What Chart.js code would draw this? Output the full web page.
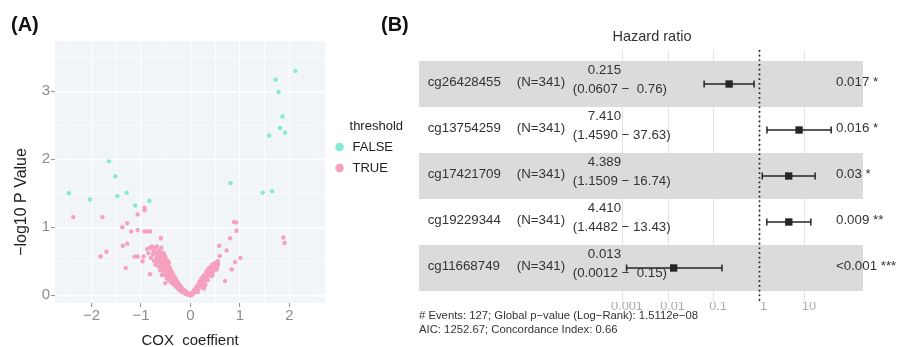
<!DOCTYPE html>
<html>
<head>
<meta charset="utf-8">
<script src="https://cdn.jsdelivr.net/npm/chart.js@4.4.1/dist/chart.umd.min.js"></script>
<style>
  html, body { margin: 0; padding: 0; background: #fff; }
  #wrap { position: relative; width: 897px; height: 347px; overflow: hidden; font-family: "Liberation Sans", Arial, sans-serif; }
  canvas { position: absolute; top: 0; }
  #cvA { left: 0; }
  #cvB { left: 400px; }
  .tag { position: absolute; top: 10px; font-weight: bold; font-size: 20px; line-height: 28px; color: #111; }
</style>
</head>
<body>
<div id="wrap">
  <canvas id="cvA" width="405" height="347"></canvas>
  <canvas id="cvB" width="497" height="347"></canvas>
  <div class="tag" style="left:11px">(A)</div>
  <div class="tag" style="left:381px">(B)</div>
</div>
<script>
// ---------- (A) volcano: COX coefficient vs -log10 p ----------
const thresholdLabels = ['FALSE', 'TRUE'];
const coefTicks = [-2, -1, 0, 1, 2];
const logpTicks = [0, 1, 2, 3];
const coefGrid = [-2.5, -2, -1.5, -1, -0.5, 0, 0.5, 1, 1.5, 2, 2.5];
const logpGrid = [0, 0.5, 1, 1.5, 2, 2.5, 3, 3.5];

// [coef, -log10 p]
const falsePoints = [
  [2.12, 3.30], [1.72, 3.17], [1.78, 2.99], [1.86, 2.63], [1.81, 2.46], [1.59, 2.35],
  [1.91, 2.39], [0.81, 1.65], [1.46, 1.51], [1.65, 1.53], [-1.65, 1.97], [-1.52, 1.75],
  [-2.46, 1.50], [-2.03, 1.41], [-1.48, 1.46], [-1.29, 1.51], [-1.12, 1.32], [-0.83, 1.39]
];
const truePoints = [
  [-2.37, 1.15], [-1.78, 1.15], [-1.82, 0.57], [-1.70, 0.64], [-1.38, 1.00], [-1.28, 1.06],
  [-1.37, 0.73], [-1.28, 0.76], [-1.31, 0.40], [-1.20, 0.94], [-1.07, 0.96], [-1.07, 1.19],
  [-0.93, 1.29], [-0.93, 1.25], [-0.93, 0.94], [-0.88, 0.94], [-0.82, 0.94], [-1.13, 0.57],
  [-1.07, 0.57], [-0.95, 0.57], [-0.97, 0.50], [-0.60, 0.84], [-0.82, 0.31], [-0.51, 0.18],
  [0.88, 1.08], [0.92, 1.07], [0.93, 0.95], [0.80, 0.84], [0.58, 0.73], [0.73, 0.66],
  [0.59, 0.58], [1.01, 0.55], [0.90, 0.49], [0.83, 0.38], [0.70, 0.21], [1.88, 0.85], [1.90, 0.77],
  // left arm
  [-0.88, 0.68], [-0.85, 0.62], [-0.82, 0.70], [-0.80, 0.55], [-0.78, 0.72], [-0.76, 0.60],
  [-0.75, 0.66], [-0.74, 0.51], [-0.72, 0.70], [-0.71, 0.45], [-0.70, 0.62], [-0.69, 0.55],
  [-0.68, 0.72], [-0.67, 0.49], [-0.66, 0.58], [-0.65, 0.66], [-0.64, 0.42], [-0.63, 0.55],
  [-0.62, 0.64], [-0.62, 0.50], [-0.61, 0.37], [-0.60, 0.60], [-0.60, 0.45], [-0.59, 0.70],
  [-0.58, 0.52], [-0.58, 0.30], [-0.57, 0.40], [-0.57, 0.62], [-0.56, 0.58], [-0.56, 0.47],
  [-0.55, 0.48], [-0.55, 0.36], [-0.54, 0.62], [-0.54, 0.53], [-0.53, 0.55], [-0.53, 0.44],
  [-0.52, 0.44], [-0.52, 0.30], [-0.51, 0.50], [-0.51, 0.57], [-0.50, 0.40], [-0.50, 0.33],
  [-0.49, 0.35], [-0.49, 0.47], [-0.48, 0.52], [-0.48, 0.25], [-0.47, 0.45], [-0.47, 0.32],
  [-0.46, 0.28], [-0.46, 0.40], [-0.45, 0.38], [-0.45, 0.50], [-0.44, 0.48], [-0.44, 0.22],
  [-0.43, 0.32], [-0.43, 0.42], [-0.42, 0.25], [-0.42, 0.36], [-0.41, 0.27], [-0.41, 0.40],
  [-0.40, 0.30], [-0.40, 0.20], [-0.39, 0.22], [-0.39, 0.34], [-0.38, 0.35], [-0.38, 0.28],
  [-0.37, 0.28], [-0.37, 0.18], [-0.36, 0.20], [-0.36, 0.31], [-0.35, 0.30], [-0.35, 0.24],
  [-0.34, 0.24], [-0.34, 0.16], [-0.33, 0.18], [-0.33, 0.27], [-0.32, 0.26], [-0.32, 0.21],
  [-0.31, 0.21], [-0.31, 0.14], [-0.30, 0.15], [-0.30, 0.24], [-0.29, 0.22], [-0.29, 0.18],
  [-0.28, 0.17], [-0.28, 0.12], [-0.27, 0.12], [-0.27, 0.20], [-0.26, 0.19], [-0.26, 0.15],
  [-0.25, 0.14], [-0.25, 0.10], [-0.24, 0.10], [-0.24, 0.17], [-0.23, 0.16], [-0.23, 0.12],
  [-0.22, 0.11], [-0.22, 0.08], [-0.21, 0.08], [-0.21, 0.14], [-0.20, 0.13], [-0.20, 0.09],
  [-0.19, 0.09], [-0.19, 0.06], [-0.18, 0.06], [-0.18, 0.11], [-0.17, 0.10], [-0.17, 0.07],
  [-0.16, 0.07], [-0.16, 0.05], [-0.15, 0.05], [-0.15, 0.08], [-0.14, 0.08], [-0.14, 0.05],
  [-0.13, 0.05], [-0.13, 0.07], [-0.12, 0.04], [-0.11, 0.06], [-0.11, 0.03], [-0.10, 0.03],
  [-0.10, 0.05], [-0.09, 0.05], [-0.09, 0.02], [-0.08, 0.03], [-0.07, 0.02], [-0.07, 0.04],
  [-0.06, 0.04], [-0.05, 0.02], [-0.05, 0.03], [-0.04, 0.01], [-0.03, 0.02], [-0.03, 0.01],
  [-0.02, 0.01], [-0.01, 0.00],
  // right arm
  [0.00, 0.00], [0.01, 0.01], [0.02, 0.02], [0.02, 0.00], [0.03, 0.03], [0.04, 0.02],
  [0.04, 0.04], [0.05, 0.04], [0.06, 0.03], [0.06, 0.06], [0.07, 0.06], [0.08, 0.05],
  [0.08, 0.08], [0.09, 0.08], [0.10, 0.06], [0.10, 0.10], [0.11, 0.09], [0.12, 0.07],
  [0.12, 0.12], [0.13, 0.11], [0.14, 0.09], [0.14, 0.14], [0.15, 0.13], [0.15, 0.05],
  [0.16, 0.10], [0.16, 0.16], [0.17, 0.15], [0.18, 0.12], [0.18, 0.20], [0.19, 0.17],
  [0.20, 0.14], [0.20, 0.21], [0.21, 0.19], [0.22, 0.13], [0.22, 0.24], [0.23, 0.21],
  [0.24, 0.16], [0.24, 0.26], [0.25, 0.23], [0.26, 0.18], [0.26, 0.28], [0.27, 0.25],
  [0.27, 0.10], [0.28, 0.20], [0.28, 0.30], [0.29, 0.27], [0.30, 0.22], [0.30, 0.15],
  [0.31, 0.30], [0.32, 0.25], [0.32, 0.35], [0.33, 0.33], [0.34, 0.28], [0.35, 0.22],
  [0.35, 0.38], [0.36, 0.36], [0.37, 0.30], [0.38, 0.40], [0.39, 0.33], [0.40, 0.34],
  [0.41, 0.42], [0.42, 0.28], [0.43, 0.37], [0.44, 0.45], [0.45, 0.30], [0.46, 0.40],
  [0.47, 0.36], [0.48, 0.47], [0.50, 0.44], [0.52, 0.48], [0.53, 0.38], [0.54, 0.42],
  [0.55, 0.50], [0.56, 0.46]
];

// ---------- (B) forest plot ----------
const probes = ['cg26428455', 'cg13754259', 'cg17421709', 'cg19229344', 'cg11668749'];
const sampleN = [341, 341, 341, 341, 341];
const hazard = [0.215, 7.410, 4.389, 4.410, 0.013];
const ciLower = [0.0607, 1.4590, 1.1509, 1.4482, 0.0012];
const ciUpper = [0.76, 37.63, 16.74, 13.43, 0.15];
const pLabels = ['0.017 *', '0.016 *', '0.03 *', '0.009 **', '<0.001 ***'];
const hrTicks = [0.001, 0.01, 0.1, 1, 10];
const footnotes = [
  '# Events: 127; Global p\u2212value (Log\u2212Rank): 1.5112e\u221208',
  'AIC: 1252.67; Concordance Index: 0.66'
];

const FONT = '"Liberation Sans", Arial, sans-serif';
Chart.defaults.font.family = FONT;

const fmtNum = v => (v < 0 ? '\u2212' + Math.abs(v) : String(v));

const panelA = {
  id: 'panelA',
  beforeDraw(chart) {
    const { ctx, chartArea: a } = chart;
    ctx.save();
    ctx.fillStyle = '#F2F5F7';
    ctx.fillRect(a.left, a.top, a.right - a.left, a.bottom - a.top);
    ctx.restore();
  },
  afterDraw(chart) {
    const ctx = chart.ctx;
    ctx.save();
    ctx.translate(22, 202);
    ctx.rotate(-Math.PI / 2);
    ctx.font = '16px ' + FONT;
    ctx.fillStyle = '#222';
    ctx.textAlign = 'center';
    ctx.textBaseline = 'middle';
    ctx.fillText('\u2212log10 P Value', 0, 0);
    ctx.restore();
  }
};

const whiteGrid = {
  color: '#FFFFFF',
  lineWidth: c => (c.tick && Number.isInteger(c.tick.value) ? 1.2 : 0.6),
  tickColor: c => (c.tick && Number.isInteger(c.tick.value) ? '#8C8C8C' : 'rgba(0,0,0,0)'),
  tickWidth: 1,
  tickLength: 4
};

new Chart(document.getElementById('cvA'), {
  type: 'scatter',
  data: {
    datasets: [
      {
        label: thresholdLabels[0],
        data: falsePoints.map(([x, y]) => ({ x, y })),
        backgroundColor: '#84EBD1',
        borderWidth: 0,
        pointRadius: 2.2,
        pointStyle: 'circle'
      },
      {
        label: thresholdLabels[1],
        data: truePoints.map(([x, y]) => ({ x, y })),
        backgroundColor: '#F5A0BF',
        borderWidth: 0,
        pointRadius: 2.2,
        pointStyle: 'circle'
      }
    ]
  },
  options: {
    responsive: false,
    animation: false,
    events: [],
    layout: { padding: { left: 0, top: 41, right: 2, bottom: 0 } },
    scales: {
      x: {
        type: 'linear',
        bounds: 'data',
        min: -2.74,
        max: 2.72,
        afterFit: s => { s.height = 44; },
        afterBuildTicks: s => { s.ticks = coefGrid.map(v => ({ value: v })); },
        ticks: {
          autoSkip: false,
          maxRotation: 0,
          padding: 0,
          color: '#8C8C8C',
          font: { size: 15 },
          callback: v => (coefTicks.includes(v) ? fmtNum(v) : '')
        },
        grid: whiteGrid,
        border: { display: false },
        title: {
          display: true,
          text: 'COX  coeffient',
          color: '#222',
          font: { size: 15, lineHeight: 1 },
          padding: { top: 0, bottom: -1 }
        }
      },
      y: {
        type: 'linear',
        bounds: 'data',
        min: -0.113,
        max: 3.74,
        afterFit: s => { s.width = 55; },
        afterBuildTicks: s => { s.ticks = logpGrid.map(v => ({ value: v })); },
        ticks: {
          autoSkip: false,
          padding: 1,
          color: '#8C8C8C',
          font: { size: 15 },
          callback: v => (logpTicks.includes(v) ? fmtNum(v) : '')
        },
        grid: whiteGrid,
        border: { display: false }
      }
    },
    plugins: {
      legend: {
        position: 'right',
        align: 'start',
        title: {
          display: true,
          text: 'threshold',
          position: 'end',
          color: '#222',
          font: { size: 13, lineHeight: 1 },
          padding: { top: 78.5, bottom: 0 }
        },
        labels: {
          usePointStyle: true,
          pointStyle: 'circle',
          boxWidth: 13,
          boxHeight: 6,
          padding: 8,
          color: '#222',
          font: { size: 13 }
        }
      },
      tooltip: { enabled: false }
    }
  },
  plugins: [panelA]
});

const forestPlugin = {
  id: 'forest',
  beforeDatasetsDraw(chart) {
    const { ctx, chartArea: a, scales: { x, y } } = chart;
    ctx.save();
    // shaded rows
    ctx.fillStyle = '#DBDBDB';
    probes.forEach((p, i) => {
      if (i % 2) return;
      const t = y.getPixelForValue(i + 0.5);
      const b = y.getPixelForValue(i + 1.5);
      ctx.fillRect(a.left, t, a.right - a.left, b - t);
    });
    // HR = 1 reference
    const x1 = x.getPixelForValue(1);
    ctx.strokeStyle = '#222';
    ctx.lineWidth = 1.7;
    ctx.setLineDash([1.7, 3]);
    ctx.beginPath();
    ctx.moveTo(x1, a.top);
    ctx.lineTo(x1, a.bottom);
    ctx.stroke();
    ctx.setLineDash([]);
    // confidence intervals
    ctx.strokeStyle = '#262626';
    ctx.lineWidth = 1.5;
    chart.data.datasets[0].data.forEach(d => {
      const py = y.getPixelForValue(d.y);
      const l = x.getPixelForValue(d.lo);
      const r = x.getPixelForValue(d.hi);
      ctx.beginPath();
      ctx.moveTo(l, py); ctx.lineTo(r, py);
      ctx.moveTo(l, py - 3.5); ctx.lineTo(l, py + 3.5);
      ctx.moveTo(r, py - 3.5); ctx.lineTo(r, py + 3.5);
      ctx.stroke();
    });
    ctx.restore();
  },
  afterDraw(chart) {
    const { ctx, chartArea: a, scales: { y } } = chart;
    ctx.save();
    ctx.fillStyle = '#333';
    ctx.textBaseline = 'middle';
    ctx.font = '13.3px ' + FONT;
    probes.forEach((name, i) => {
      const py = y.getPixelForValue(i + 1);
      ctx.textAlign = 'left';
      ctx.fillText(name, a.left + 8.7, py - 2);
      ctx.fillText('(N=' + sampleN[i] + ')', a.left + 97.7, py - 2);
      const ci = '(' + ciLower[i].toFixed(4) + ' \u2212 ' + ciUpper[i].toFixed(2).padStart(5, ' ') + ')';
      ctx.fillText(ci, a.left + 153.7, py + 5.6);
      ctx.fillText(pLabels[i], a.left + 417, py - 2);
      ctx.textAlign = 'center';
      ctx.fillText(hazard[i].toFixed(3), a.left + 185.5, py - 13.4);
    });
    ctx.font = '14.5px ' + FONT;
    ctx.textAlign = 'center';
    ctx.fillText('Hazard ratio', a.left + 233, 37);
    ctx.font = '11.3px ' + FONT;
    ctx.textAlign = 'left';
    ctx.fillText(footnotes[0], a.left, 316);
    ctx.fillText(footnotes[1], a.left, 330);
    ctx.restore();
  }
};

new Chart(document.getElementById('cvB'), {
  type: 'scatter',
  data: {
    datasets: [{
      label: 'Hazard ratio',
      data: hazard.map((h, i) => ({ x: h, y: i + 1, lo: ciLower[i], hi: ciUpper[i] })),
      pointStyle: 'rect',
      pointRadius: 5.2,
      backgroundColor: '#262626',
      borderWidth: 0
    }]
  },
  options: {
    responsive: false,
    animation: false,
    events: [],
    layout: { padding: { left: 19, top: 50, right: 34, bottom: 0 } },
    scales: {
      x: {
        type: 'logarithmic',
        bounds: 'data',
        min: 3.29e-8,
        max: 188.4,
        afterFit: s => { s.height = 45; },
        afterBuildTicks: s => { s.ticks = hrTicks.map(v => ({ value: v })); },
        ticks: {
          autoSkip: false,
          maxRotation: 0,
          padding: -3,
          labelOffset: 4,
          color: '#ABABAB',
          font: { size: 12.7 },
          callback: (v, i) => String(hrTicks[i])
        },
        grid: { color: '#E3E3E3', lineWidth: 1, drawTicks: false },
        border: { display: false }
      },
      y: { display: false, reverse: true, min: 0.26, max: 5.74 }
    },
    plugins: { legend: { display: false }, tooltip: { enabled: false } }
  },
  plugins: [forestPlugin]
});
</script>
</body>
</html>
